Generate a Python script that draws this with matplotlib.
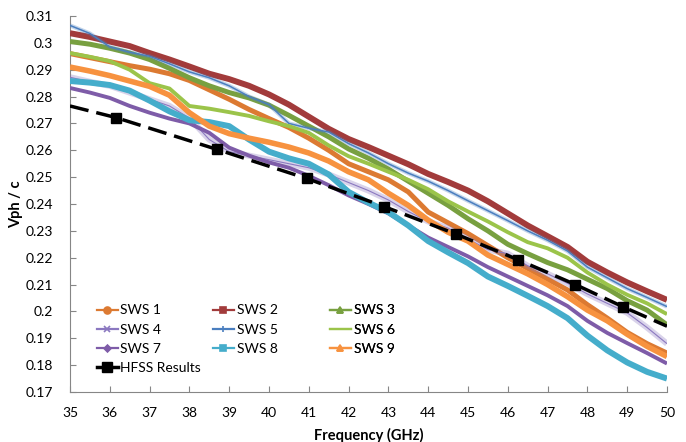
import matplotlib
matplotlib.use("Agg")
import matplotlib.pyplot as plt
from matplotlib.lines import Line2D
from matplotlib.ticker import FuncFormatter

plt.rcParams['font.family'] = ['Lato', 'DejaVu Sans']

# Measured frequency grid (GHz)
freq = [35.0, 35.5, 36.0, 36.5, 37.0, 37.5, 38.0, 38.5, 39.0, 39.5, 40.0,
        40.5, 41.0, 41.5, 42.0, 42.5, 43.0, 43.5, 44.0, 44.5, 45.0, 45.5,
        46.0, 46.5, 47.0, 47.5, 48.0, 48.5, 49.0, 49.5, 50.0]

# Normalised phase velocity of each slow-wave structure
sws1 = [0.2960, 0.2945, 0.2930, 0.2915, 0.2902, 0.2885, 0.2860, 0.2825, 0.2790, 0.2752, 0.2718,
        0.2685, 0.2645, 0.2600, 0.2550, 0.2520, 0.2490, 0.2445, 0.2370, 0.2330, 0.2290, 0.2245,
        0.2200, 0.2160, 0.2120, 0.2080, 0.2025, 0.1975, 0.1922, 0.1880, 0.1845]
sws2 = [0.3036, 0.3022, 0.3005, 0.2988, 0.2962, 0.2938, 0.2912, 0.2885, 0.2865, 0.2840, 0.2808,
        0.2770, 0.2725, 0.2680, 0.2642, 0.2612, 0.2580, 0.2548, 0.2512, 0.2482, 0.2450, 0.2410,
        0.2365, 0.2320, 0.2280, 0.2240, 0.2185, 0.2145, 0.2108, 0.2075, 0.2043]
sws3 = [0.3005, 0.2995, 0.2980, 0.2962, 0.2938, 0.2905, 0.2870, 0.2840, 0.2815, 0.2795, 0.2768,
        0.2730, 0.2690, 0.2650, 0.2605, 0.2570, 0.2530, 0.2485, 0.2440, 0.2395, 0.2345, 0.2300,
        0.2250, 0.2215, 0.2182, 0.2155, 0.2120, 0.2085, 0.2040, 0.2005, 0.1950]
sws4 = [0.2872, 0.2855, 0.2840, 0.2815, 0.2790, 0.2765, 0.2720, 0.2640, 0.2595, 0.2580, 0.2565,
        0.2550, 0.2535, 0.2510, 0.2480, 0.2450, 0.2415, 0.2372, 0.2335, 0.2310, 0.2270, 0.2230,
        0.2215, 0.2170, 0.2140, 0.2105, 0.2065, 0.2030, 0.1995, 0.1940, 0.1880]
sws5 = [0.3065, 0.3035, 0.2985, 0.2965, 0.2950, 0.2922, 0.2892, 0.2870, 0.2840, 0.2800, 0.2770,
        0.2700, 0.2682, 0.2668, 0.2625, 0.2590, 0.2550, 0.2515, 0.2485, 0.2450, 0.2412, 0.2375,
        0.2338, 0.2300, 0.2265, 0.2225, 0.2165, 0.2125, 0.2085, 0.2052, 0.2018]
sws6 = [0.2962, 0.2948, 0.2932, 0.2900, 0.2850, 0.2830, 0.2765, 0.2755, 0.2742, 0.2728, 0.2708,
        0.2690, 0.2665, 0.2618, 0.2578, 0.2550, 0.2520, 0.2490, 0.2455, 0.2410, 0.2372, 0.2335,
        0.2295, 0.2258, 0.2235, 0.2200, 0.2145, 0.2100, 0.2062, 0.2030, 0.1990]
sws7 = [0.2832, 0.2815, 0.2795, 0.2765, 0.2740, 0.2718, 0.2700, 0.2665, 0.2610, 0.2580, 0.2555,
        0.2535, 0.2505, 0.2470, 0.2432, 0.2400, 0.2365, 0.2320, 0.2275, 0.2240, 0.2205, 0.2165,
        0.2130, 0.2095, 0.2060, 0.2020, 0.1965, 0.1920, 0.1882, 0.1845, 0.1806]
sws8 = [0.2858, 0.2852, 0.2843, 0.2822, 0.2785, 0.2745, 0.2712, 0.2705, 0.2690, 0.2640, 0.2595,
        0.2570, 0.2550, 0.2510, 0.2445, 0.2405, 0.2370, 0.2320, 0.2262, 0.2220, 0.2180, 0.2130,
        0.2095, 0.2058, 0.2020, 0.1975, 0.1910, 0.1855, 0.1810, 0.1775, 0.1750]
sws9 = [0.2910, 0.2895, 0.2878, 0.2858, 0.2838, 0.2805, 0.2740, 0.2690, 0.2662, 0.2645, 0.2630,
        0.2612, 0.2590, 0.2560, 0.2520, 0.2490, 0.2440, 0.2395, 0.2340, 0.2295, 0.2262, 0.2210,
        0.2175, 0.2140, 0.2100, 0.2055, 0.2005, 0.1965, 0.1915, 0.1870, 0.1832]

# Simulated dispersion (HFSS)
hfss_freq = [35.0, 36.15, 38.7, 40.95, 42.9, 44.7, 46.25, 47.7, 48.9, 50.0]
hfss_vph = [0.2765, 0.2722, 0.2603, 0.2495, 0.2390, 0.2288, 0.2193, 0.2100, 0.2017, 0.1945]

labels = ['SWS 1', 'SWS 2', 'SWS 3', 'SWS 4', 'SWS 5', 'SWS 6', 'SWS 7', 'SWS 8', 'SWS 9']
series = [sws1, sws2, sws3, sws4, sws5, sws6, sws7, sws8, sws9]
colors = ['#DC7A32', '#A23B3B', '#78A040', '#8B78C0', '#4A7EBF',
          '#9BC44A', '#7E5CA8', '#45ADCB', '#F7923F']
widths = [3.6, 4.3, 3.6, 0.8, 1.1, 2.8, 2.8, 4.3, 4.0]
markers = ['o', 's', '^', 'x', '+', '_', 'D', 's', '^']
fuzzy = {3: 4.4, 4: 3.0}

fig = plt.figure(figsize=(6.86, 4.42), dpi=100)
ax = fig.add_axes([0.102, 0.1131, 0.8703, 0.8507])

for i, (vals, col) in enumerate(zip(series, colors)):
    if i in fuzzy:
        ax.plot(freq, vals, color=col, lw=fuzzy[i], alpha=0.32,
                solid_capstyle='butt', zorder=2 + i)
    ax.plot(freq, vals, color=col, lw=widths[i], solid_capstyle='butt',
            solid_joinstyle='round', zorder=2 + i)

ax.plot(hfss_freq, hfss_vph, color='black', lw=2.5, dashes=(5.5, 2.3),
        marker='s', markersize=7.5, markevery=list(range(1, len(hfss_freq) - 1)),
        zorder=20)

ax.set_xlim(35, 50)
ax.set_ylim(0.17, 0.31)
ax.set_xticks(range(35, 51))
ax.set_yticks([0.17 + 0.01 * k for k in range(15)])
ax.yaxis.set_major_formatter(FuncFormatter(lambda v, p: f"{round(v, 2):g}"))

for side in ('top', 'right'):
    ax.spines[side].set_visible(False)
for side in ('left', 'bottom'):
    ax.spines[side].set_color('#868686')
    ax.spines[side].set_linewidth(0.8)
ax.tick_params(axis='both', direction='in', length=4, width=0.8,
               color='#868686', labelsize=10, labelcolor='black')
ax.tick_params(axis='x', pad=10.5)
ax.tick_params(axis='y', pad=12)

ax.set_xlabel('Frequency (GHz)', fontsize=10.5, fontweight='bold', labelpad=7)
ax.set_ylabel('Vph / c', fontsize=10.5, fontweight='bold', labelpad=2)

# Legend proxies, laid out in three fixed columns
handles = []
for i in range(9):
    handles.append(Line2D([], [], color=colors[i], lw=1.6, marker=markers[i],
                          markersize=5 if markers[i] != 'D' else 3.5,
                          markeredgewidth=1.2))
hfss_handle = Line2D([], [], color='black', lw=2.5, marker='s', markersize=7)

columns = [
    ([handles[0], handles[3], handles[6], hfss_handle], ['SWS 1', 'SWS 4', 'SWS 7', 'HFSS Results'], 0.045),
    ([handles[1], handles[4], handles[7]], ['SWS 2', 'SWS 5', 'SWS 8'], 0.2395),
    ([handles[2], handles[5], handles[8]], ['SWS 3', 'SWS 6', 'SWS 9'], 0.4355),
]
for hs, ls, x0 in columns:
    leg = ax.legend(hs, ls, loc='upper left', bbox_to_anchor=(x0, 0.233),
                    frameon=False, fontsize=10, handlelength=1.5,
                    handletextpad=0.2, labelspacing=0.52, borderpad=0,
                    borderaxespad=0)
    ax.add_artist(leg)

fig.savefig('out.png', dpi=100)
